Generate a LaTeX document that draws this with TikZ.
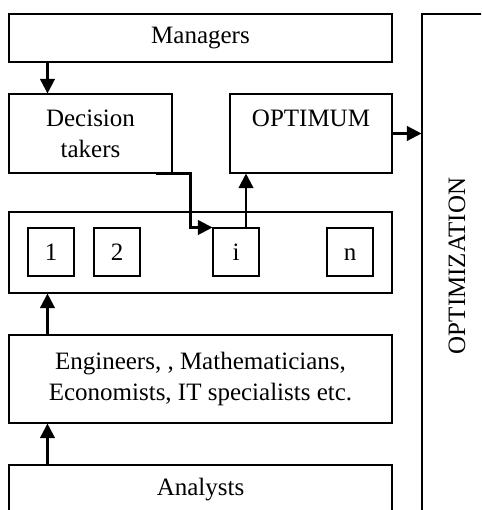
\documentclass[tikz,border=0pt]{standalone}
\usepackage{fontspec}
\setmainfont{Liberation Serif}
\usepackage{tikz}
\usetikzlibrary{arrows.meta,positioning,calc}
\def\u{0.48pt}
\tikzset{
  box/.style={draw, line width=0.5pt, inner sep=0pt, align=center, font=\fontsize{12}{15}\selectfont},
  varbox/.style={box, minimum width=46*\u, minimum height=48*\u, text height=8.6pt, text depth=0pt},
  arr/.style={line width=1.1pt, -{Triangle[length=7pt,width=7pt]}}
}

\begin{document}
\begin{tikzpicture}[x=\u, y=-\u]
    \useasboundingbox (0,0) rectangle (481,510);
    \clip (0,0) rectangle (481,510);

    % Levels
    \node[box, minimum width=383*\u, minimum height=48*\u] (mgr) at (200.5,38) {Managers};
    \node[box, minimum width=163*\u, minimum height=79*\u] (dec) at (90.5,133.5) {Decision\\takers};
    \node[box, minimum width=162*\u, minimum height=79*\u] (opt) at (311,133.5) {OPTIMUM\\\mbox{}};
    \node[box, minimum width=383*\u, minimum height=81*\u] (mid) at (200.5,252.5) {};
    \node[box, minimum width=383*\u, minimum height=88*\u] (eng) at (200.5,379) {Engineers, , Mathematicians,\\Economists, IT specialists etc.};
    \node[box, minimum width=383*\u, minimum height=50*\u] (ana) at (200.5,490) {Analysts};
    \node[box, minimum width=70*\u, minimum height=504*\u] (optz) at (457,266) {};
    \node[rotate=90, font=\fontsize{12}{15}\selectfont] (optzlabel) at (optz.center) {OPTIMIZATION};

    % Variants
    \foreach \name/\txt/\x in {b1/1/51, b2/2/117, bi/i/236, bn/n/350}
        \node[varbox] (\name) at (\x,252) {\txt};

    % Links
    \draw[arr] ([xshift=39*\u]mgr.south west) -- ([xshift=39*\u]dec.north west);
    \draw[arr] ([xshift=-17*\u]dec.south east) -- ++(35,0) |- (bi.north west);
    \draw[arr] ([xshift=10*\u]bi.north) -- ([xshift=10*\u]bi.north |- opt.south);
    \draw[arr] (opt.east) -- (opt.east -| optz.west);
    \draw[arr] ([xshift=39*\u]eng.north west) -- ([xshift=39*\u]mid.south west);
    \draw[arr] ([xshift=39*\u]ana.north west) -- ([xshift=39*\u]eng.south west);

\end{tikzpicture}
\end{document}
